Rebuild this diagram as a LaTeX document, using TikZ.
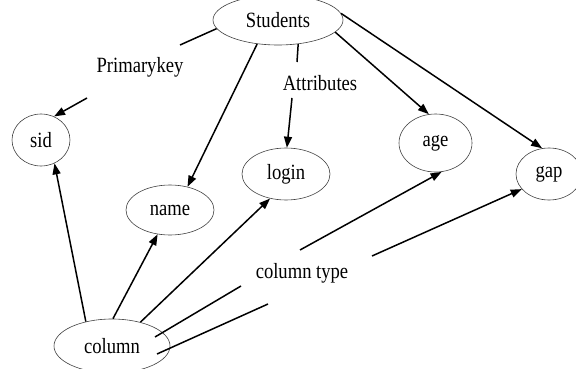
\documentclass[tikz,border=0pt]{standalone}
\usepackage{graphicx}
\usepackage{fontspec}
\setmainfont{Liberation Serif}
\usetikzlibrary{arrows.meta,shapes.geometric}
\newcommand{\tallt}[1]{\scalebox{1}[1.17]{#1}}
\begin{document}
\begin{tikzpicture}[x=1pt,y=-1pt,
  txt/.style={font=\fontsize{18.6}{22}\selectfont},
  ent/.style={ellipse,draw=black!75,line width=0.6pt,inner sep=0pt,txt},
  lbl/.style={inner sep=0pt,txt},
  conn/.style={line width=1.5pt},
  arr/.style={conn,-{Triangle[length=11pt,width=8pt]}}]
\clip (0,0) rectangle (576,369);
% entities
\node[ent,minimum width=130pt,minimum height=50pt] (students) at (278,20) {\tallt{Students}};
\node[ent,minimum width=58pt,minimum height=52pt] (sid) at (41,140) {\tallt{sid}};
\node[ent,minimum width=88pt,minimum height=50pt] (name) at (170,210) {\tallt{name}};
\node[ent,minimum width=88pt,minimum height=52pt] (login) at (286,174) {\tallt{login}};
\node[ent,minimum width=73pt,minimum height=58pt] (age) at (435.5,143) {\tallt{age}};
\node[ent,minimum width=66pt,minimum height=52pt] (gap) at (549,174) {\tallt{gap}};
\node[ent,minimum width=116pt,minimum height=54pt] (column) at (112,346) {\tallt{column}};
% labels
\node[lbl] (pk) at (140,67) {\tallt{Primarykey}};
\node[lbl] (attr) at (320,83) {\tallt{Attributes}};
\node[lbl] (ctype) at (302,273) {\tallt{column type}};
% break points around labels
\coordinate (pkA) at (180,45);
\coordinate (pkB) at (87,98);
\coordinate (atA) at (297,62);
\coordinate (atB) at (292,98);
\coordinate (ctA1) at (241,286);
\coordinate (ctA2) at (300,250);
\coordinate (ctB1) at (268,304);
\coordinate (ctB2) at (372,256);
\coordinate (colA) at (155,337);
\coordinate (colB) at (157,354);
% Students -> sid (Primarykey)
\draw[conn] (students.188) -- (pkA);
\draw[arr] (pkB) -- (sid.61);
% Students -> login (Attributes)
\draw[conn] (students.-50) -- (atA);
\draw[arr] (atB) -- (login.88);
% Students -> name, age, gap
\draw[arr] (students.-131) -- (name.53);
\draw[arr] (students.-12) -- (age.103);
\draw[arr] (students.6) -- (gap.105);
% column -> sid, name, login
\draw[arr] (column.137) -- (sid.-60);
\draw[arr] (column.88) -- (name.-117);
\draw[arr] (column.40) -- (login.-123);
% column -> age, gap (column type)
\draw[conn] (colA) -- (ctA1);
\draw[arr] (ctA2) -- (age.-78);
\draw[conn] (colB) -- (ctB1);
\draw[arr] (ctB2) -- (gap.-151);
\end{tikzpicture}
\end{document}
